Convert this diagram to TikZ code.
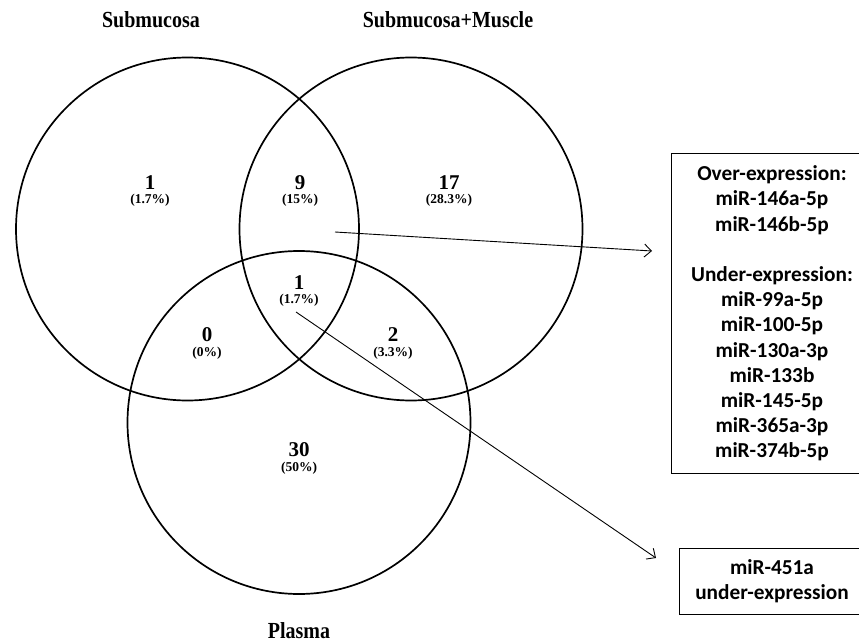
\documentclass[tikz,border=0pt]{standalone}
\usepackage{fontspec}
\setmainfont{Liberation Serif}
\newfontfamily\boxfont{Carlito}
\usetikzlibrary{arrows.meta}
\newcommand{\tallttl}[1]{\scalebox{1}[1.15]{#1}}
\tikzset{
  set/.style={circle, draw, line width=1.7pt, minimum size=343pt, inner sep=0pt},
  title/.style={font=\fontsize{20}{24}\selectfont\bfseries, inner sep=0pt},
  cnt/.style={font=\fontsize{21}{24}\selectfont\bfseries, inner sep=0pt},
  pct/.style={font=\fontsize{13.5}{16}\selectfont\bfseries, inner sep=0pt},
  listbox/.style={align=center, inner sep=0pt,
    font=\boxfont\fontsize{21.3}{25.2}\selectfont\bfseries},
  boxline/.style={line width=1.1pt},
  link/.style={line width=0.9pt, -{Straight Barb[length=7pt,width=13pt,line width=0.9pt]}}
}
\begin{document}
\begin{tikzpicture}[x=1pt,y=-1pt]
\useasboundingbox (0,0) rectangle (859,642);
\clip (0,0) rectangle (859,642);
% circles
\node[set] (sub) at (187.5,229) {};
\node[set] (sm) at (411,229) {};
\node[set] (pl) at (299,422.5) {};
% titles
\node[title] (tsub) at (151,20) {\tallttl{Submucosa}};
\node[title] (tsm) at (448,20) {\tallttl{Submucosa+Muscle}};
\node[title] (tpl) at (299,631) {\tallttl{Plasma}};
% counts
\node[cnt] (n1) at (150,183) {1};
\node[pct] (p1) at (150,200) {(1.7\%)};
\node[cnt] (n9) at (300,183) {9};
\node[pct] (p9) at (300,200) {(15\%)};
\node[cnt] (n17) at (449,183) {17};
\node[pct] (p17) at (449,200) {(28.3\%)};
\node[cnt] (nc) at (299,283) {1};
\node[pct] (pc) at (299,300) {(1.7\%)};
\node[cnt] (n0) at (207,335) {0};
\node[pct] (p0) at (207,353) {(0\%)};
\node[cnt] (n2) at (393,335) {2};
\node[pct] (p2) at (393,353) {(3.3\%)};
\node[cnt] (n30) at (299,450) {30};
\node[pct] (p30) at (299,468) {(50\%)};
% boxes (their right sides run past the picture edge)
\node[listbox, minimum width=200pt, minimum height=319pt] (box1) at (772,313.5)
 {Over-expression:\\ miR-146a-5p\\ miR-146b-5p\\[25.2pt] Under-expression:\\ miR-99a-5p\\ miR-100-5p\\ miR-130a-3p\\ miR-133b\\ miR-145-5p\\ miR-365a-3p\\ miR-374b-5p};
\draw[boxline] (box1.north east) -- (box1.north west) -- (box1.south west) -- (box1.south east);
\node[listbox, minimum width=184pt, minimum height=65pt] (box2) at (772,581.5)
 {miR-451a\\ under-expression};
\draw[boxline] (box2.north east) -- (box2.north west) -- (box2.south west) -- (box2.south east);
% connectors
\coordinate (s1) at (335,232);
\coordinate (e1) at (652,251);
\coordinate (s2) at (296,312);
\coordinate (e2) at (656,558);
\draw[link] (s1) -- (e1);
\draw[link] (s2) -- (e2);
\end{tikzpicture}
\end{document}
